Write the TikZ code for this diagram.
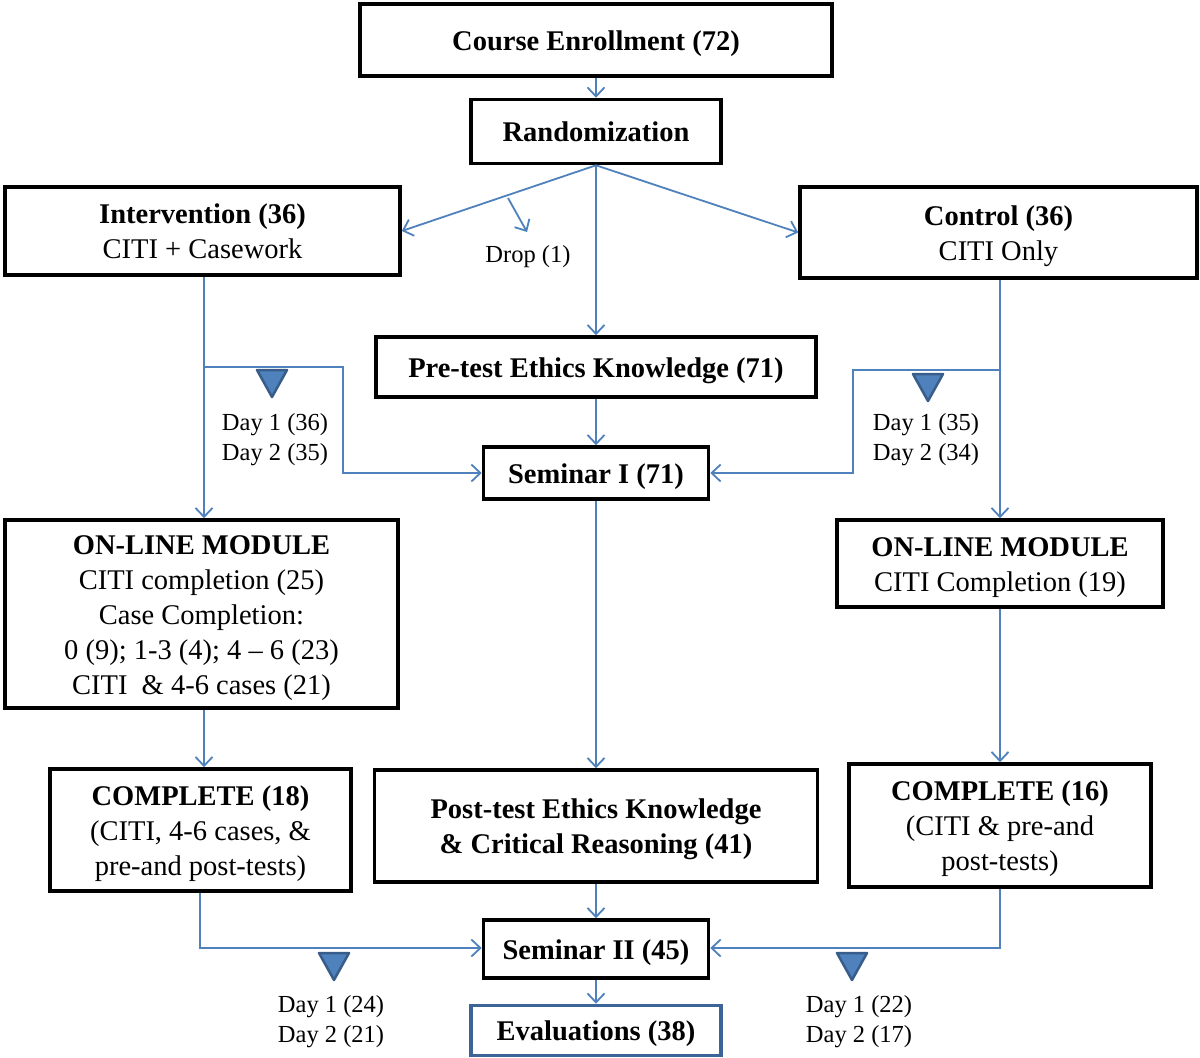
\documentclass[tikz,border=0pt]{standalone}
\usepackage{fontspec}
\setmainfont{Liberation Serif}
\usetikzlibrary{arrows.meta}
\definecolor{conn}{HTML}{4F81BD}
\definecolor{triedge}{HTML}{385D8A}
\definecolor{evalc}{HTML}{3C6496}
\newcommand\topstrut{\rule{0pt}{27.5pt}}
\newcommand\botstrut{\rule[-7pt]{0pt}{0pt}}
\tikzset{
  box/.style={draw=black, line width=3.6pt, rectangle, inner sep=0pt, align=center,
    font=\fontsize{28.5}{35}\selectfont, fill=white},
  conline/.style={draw=conn, line width=1.8pt},
  conarrow/.style={conline, -{Straight Barb[length=9pt,width=17pt]}},
  daylbl/.style={inner sep=0pt, align=center, font=\fontsize{24.5}{30}\selectfont},
  tri/.style={fill=conn, draw=triedge, line width=2.5pt, line join=round},
}
\begin{document}
\begin{tikzpicture}[x=1pt,y=-1pt]
\useasboundingbox[fill=white] (0,0) rectangle (1200,1058);

% boxes
\node[box, minimum width=472, minimum height=72] (enroll) at (596,40) {\topstrut\textbf{Course Enrollment (72)}\botstrut};
\node[box, minimum width=250, minimum height=64] (rand) at (596,131.5) {\topstrut\textbf{Randomization}\botstrut};
\node[box, minimum width=395, minimum height=88] (interv) at (202.5,231) {\topstrut\textbf{Intervention (36)}\\CITI + Casework\botstrut};
\node[box, minimum width=397, minimum height=91] (ctrl) at (998.5,232.5) {\topstrut\textbf{Control (36)}\\CITI Only\botstrut};
\node[box, minimum width=440, minimum height=60] (pretest) at (596,367) {\topstrut\textbf{Pre-test Ethics Knowledge (71)}\botstrut};
\node[box, minimum width=225, minimum height=52] (sem1) at (596,473) {\topstrut\textbf{Seminar I (71)}\botstrut};
\node[box, minimum width=393, minimum height=188] (onl) at (201.5,614) {\topstrut\textbf{ON-LINE MODULE}\\CITI completion (25)\\Case Completion:\\0 (9); 1-3 (4); 4 -- 6 (23)\\CITI~~\& 4-6 cases (21)\botstrut};
\node[box, minimum width=326, minimum height=87] (onr) at (1000,563.5) {\topstrut\textbf{ON-LINE MODULE}\\CITI Completion (19)\botstrut};
\node[box, minimum width=301, minimum height=122] (compl) at (200.5,830) {\topstrut\textbf{COMPLETE (18)}\\(CITI, 4-6 cases, \&\\pre-and post-tests)\botstrut};
\node[box, minimum width=443, minimum height=112] (post) at (596,826) {\topstrut\textbf{Post-test Ethics Knowledge}\\\textbf{\& Critical Reasoning (41)}\botstrut};
\node[box, minimum width=302, minimum height=123] (compr) at (1000,825.5) {\topstrut\textbf{COMPLETE (16)}\\(CITI \& pre-and\\post-tests)\botstrut};
\node[box, minimum width=225, minimum height=58] (sem2) at (596,949) {\topstrut\textbf{Seminar II (45)}\botstrut};
\node[box, draw=evalc, minimum width=250, minimum height=50] (evals) at (596,1030.5) {\topstrut\textbf{Evaluations (38)}\botstrut};

% labels
\node[daylbl] (drop) at (528,257) {Drop (1)};
\node[daylbl] (dl1) at (275,440) {Day 1 (36)\\Day 2 (35)};
\node[daylbl] (dr1) at (926,440) {Day 1 (35)\\Day 2 (34)};
\node[daylbl] (dl2) at (331,1022) {Day 1 (24)\\Day 2 (21)};
\node[daylbl] (dr2) at (859,1022) {Day 1 (22)\\Day 2 (17)};

% connector helper coordinates
\coordinate (dropA) at (508,198);
\coordinate (dropB) at (527,232);
\coordinate (lb1) at (204,367);
\coordinate (lb2) at (343,367);
\coordinate (rb1) at (1000,370);
\coordinate (rb2) at (853,370);
\coordinate (bl1) at (200,948);
\coordinate (br1) at (1000,948);

% connectors
\draw[conarrow] (enroll.south) -- (rand.north);
\draw[conarrow] (rand.south) -- (interv.east);
\draw[conarrow] (rand.south) -- (ctrl.west);
\draw[conarrow] (rand.south) -- (pretest.north);
\draw[conarrow] (dropA) -- (dropB);
\draw[conarrow] (interv.south -| lb1) -- (onl.north -| lb1);
\draw[conarrow] (lb1) -- (lb2) -- (lb2 |- sem1.west) -- (sem1.west);
\draw[conarrow] (ctrl.south -| rb1) -- (onr.north -| rb1);
\draw[conarrow] (rb1) -- (rb2) -- (rb2 |- sem1.east) -- (sem1.east);
\draw[conarrow] (pretest.south) -- (sem1.north);
\draw[conarrow] (sem1.south) -- (post.north);
\draw[conarrow] (onl.south -| lb1) -- (compl.north -| lb1);
\draw[conarrow] (onr.south) -- (compr.north);
\draw[conarrow] (post.south) -- (sem2.north);
\draw[conarrow] (compl.south -| bl1) -- (bl1) -- (sem2.west |- bl1);
\draw[conarrow] (compr.south -| br1) -- (br1) -- (sem2.east |- br1);
\draw[conarrow] (sem2.south) -- (evals.north);

% triangles
\draw[tri] (257,370) -- (287,370) -- (272,397) -- cycle;
\draw[tri] (913,374) -- (943,374) -- (928,401) -- cycle;
\draw[tri] (319,953) -- (349,953) -- (334,980) -- cycle;
\draw[tri] (837,953) -- (867,953) -- (852,980) -- cycle;
\end{tikzpicture}
\end{document}
